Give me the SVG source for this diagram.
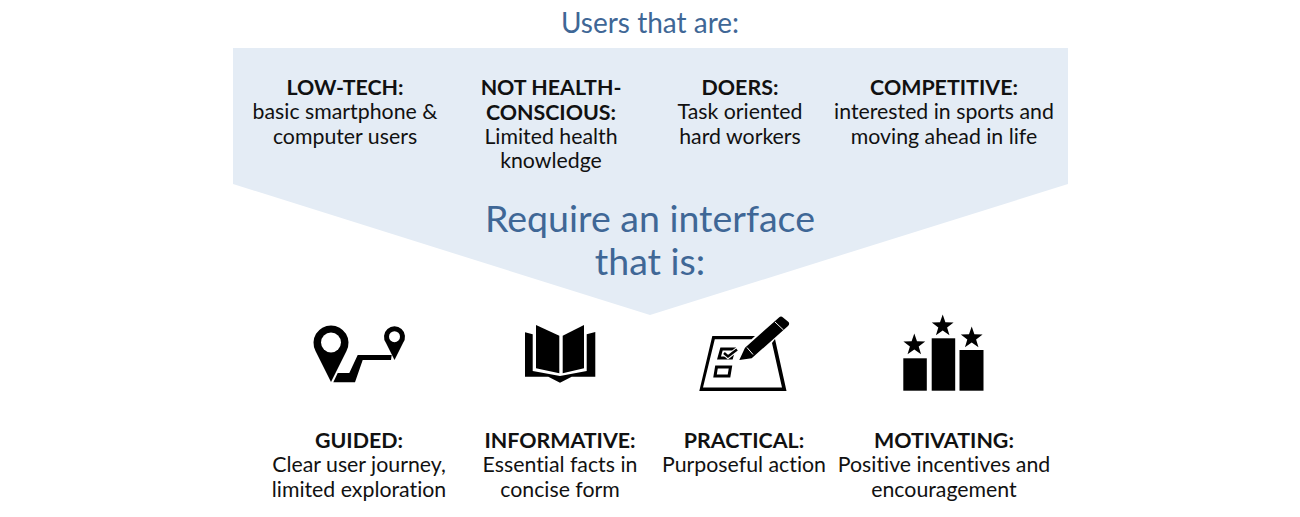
<svg xmlns="http://www.w3.org/2000/svg" width="1300" height="517" viewBox="0 0 1300 517">
<style>
text{font-family:"Lato","Noto Sans",sans-serif;text-anchor:middle;fill:#111;font-variant-ligatures:none}
.b{font-size:21.400px;font-weight:700}
.t{font-size:21.300px}
.h{fill:#3f6796}
.k{fill:#000}
.w{fill:#fff}
</style>
<defs><polygon id="star" points="0,-11.500 2.700,-3.700 10.900,-3.550 4.400,1.400 6.760,9.300 0,4.600 -6.760,9.300 -4.400,1.400 -10.900,-3.550 -2.700,-3.700"/></defs>
<rect width="1300" height="517" fill="#fff"/>
<g id="banner"><polygon points="233,48 1068,48 1068,184 650,315 233,184" fill="#e4ecf5"/></g>
<g id="heading-top"><text class="h" x="650" y="33" font-size="28">Users that are:</text></g>
<g id="heading-mid"><text class="h" x="650" y="232" font-size="37.500">Require an interface</text><text class="h" x="650" y="275" font-size="37.500">that is:</text></g>
<g id="low-tech"><text class="b" x="345" y="94.500">LOW-TECH:</text><text class="t" x="345" y="119">basic smartphone &amp;</text><text class="t" x="345" y="144">computer users</text></g>
<g id="not-health"><text class="b" x="551" y="94.500">NOT HEALTH-</text><text class="b" x="551" y="119.500">CONSCIOUS:</text><text class="t" x="551" y="144">Limited health</text><text class="t" x="551" y="168">knowledge</text></g>
<g id="doers"><text class="b" x="740" y="94.500">DOERS:</text><text class="t" x="740" y="119">Task oriented</text><text class="t" x="740" y="144">hard workers</text></g>
<g id="competitive"><text class="b" x="944" y="94.500">COMPETITIVE:</text><text class="t" x="944" y="119">interested in sports and</text><text class="t" x="944" y="144">moving ahead in life</text></g>
<g id="guided">
<path class="k" d="M331,382 L315.500,351 A17.500,17.500 0 1 1 346.500,351 Z"/><circle class="w" cx="331" cy="342.500" r="10"/>
<path class="k" d="M394.500,360 L386,343 A10.500,10.500 0 1 1 403,343 Z"/><circle class="w" cx="394.500" cy="336.700" r="5.500"/>
<polygon class="k" points="333.300,382.300 337.700,373 349.300,373 357.700,355 391.700,355 391,360 362.700,360 355,382.300"/>
<text class="b" x="359" y="447.500">GUIDED:</text><text class="t" x="359" y="472">Clear user journey,</text><text class="t" x="359" y="497">limited exploration</text></g>
<g id="informative">
<path class="k" d="M525,332.300 L532.700,334.300 L532.700,371 L560,376 L586.700,371 L586.700,334.300 L595.300,332 L595.300,376.700 L571.700,376.700 L560,382.700 L548.300,376.700 L525,376.700 Z"/>
<path class="k" d="M536,325 L559.300,335.700 L559.300,373.300 L536,368.300 Z"/><path class="k" d="M562.700,335.700 L584,325 L584,368.300 L562.700,373.300 Z"/>
<text class="b" x="560" y="447.500">INFORMATIVE:</text><text class="t" x="560" y="472">Essential facts in</text><text class="t" x="560" y="497">concise form</text></g>
<g id="practical">
<polygon class="k" points="712.300,336 755,336 751.500,339.300 714.800,339.300 703,387.500 782,387.500 772,343 775,339 786.500,391 699.300,391"/>
<path class="k" d="M745,347.700 L779,317.500 Q781,315.700 783,317.500 L788.500,322 Q790,324 788,326 L751.700,358.300 L739.300,360 Z"/>
<path d="M775,322 L783.500,330 M747,347.500 L753,354.500" stroke="#fff" stroke-width="1"/>
<path d="M721.500,349 H734 L731.500,358 H719 Z" fill="none" stroke="#000" stroke-width="3"/>
<path d="M724,353 L728,356.500 L737,349.500" fill="none" stroke="#fff" stroke-width="4.500"/>
<path d="M724,353 L728,356.500 L737,349.500" fill="none" stroke="#000" stroke-width="2.500"/>
<path d="M716.500,367 H730.500 L729,376 H715 Z" fill="none" stroke="#000" stroke-width="3"/>
<text class="b" x="744" y="447.500">PRACTICAL:</text><text class="t" x="744" y="472">Purposeful action</text></g>
<g id="motivating">
<rect class="k" x="903.300" y="358.300" width="23.500" height="32.400"/><rect class="k" x="931.700" y="338.300" width="23.500" height="52.400"/><rect class="k" x="959.500" y="350" width="24" height="40.700"/>
<use class="k" href="#star" x="914.300" y="345"/><use class="k" href="#star" x="942.700" y="326"/><use class="k" href="#star" x="971.700" y="338"/>
<text class="b" x="944" y="447.500">MOTIVATING:</text><text class="t" x="944" y="472">Positive incentives and</text><text class="t" x="944" y="497">encouragement</text></g>
</svg>
